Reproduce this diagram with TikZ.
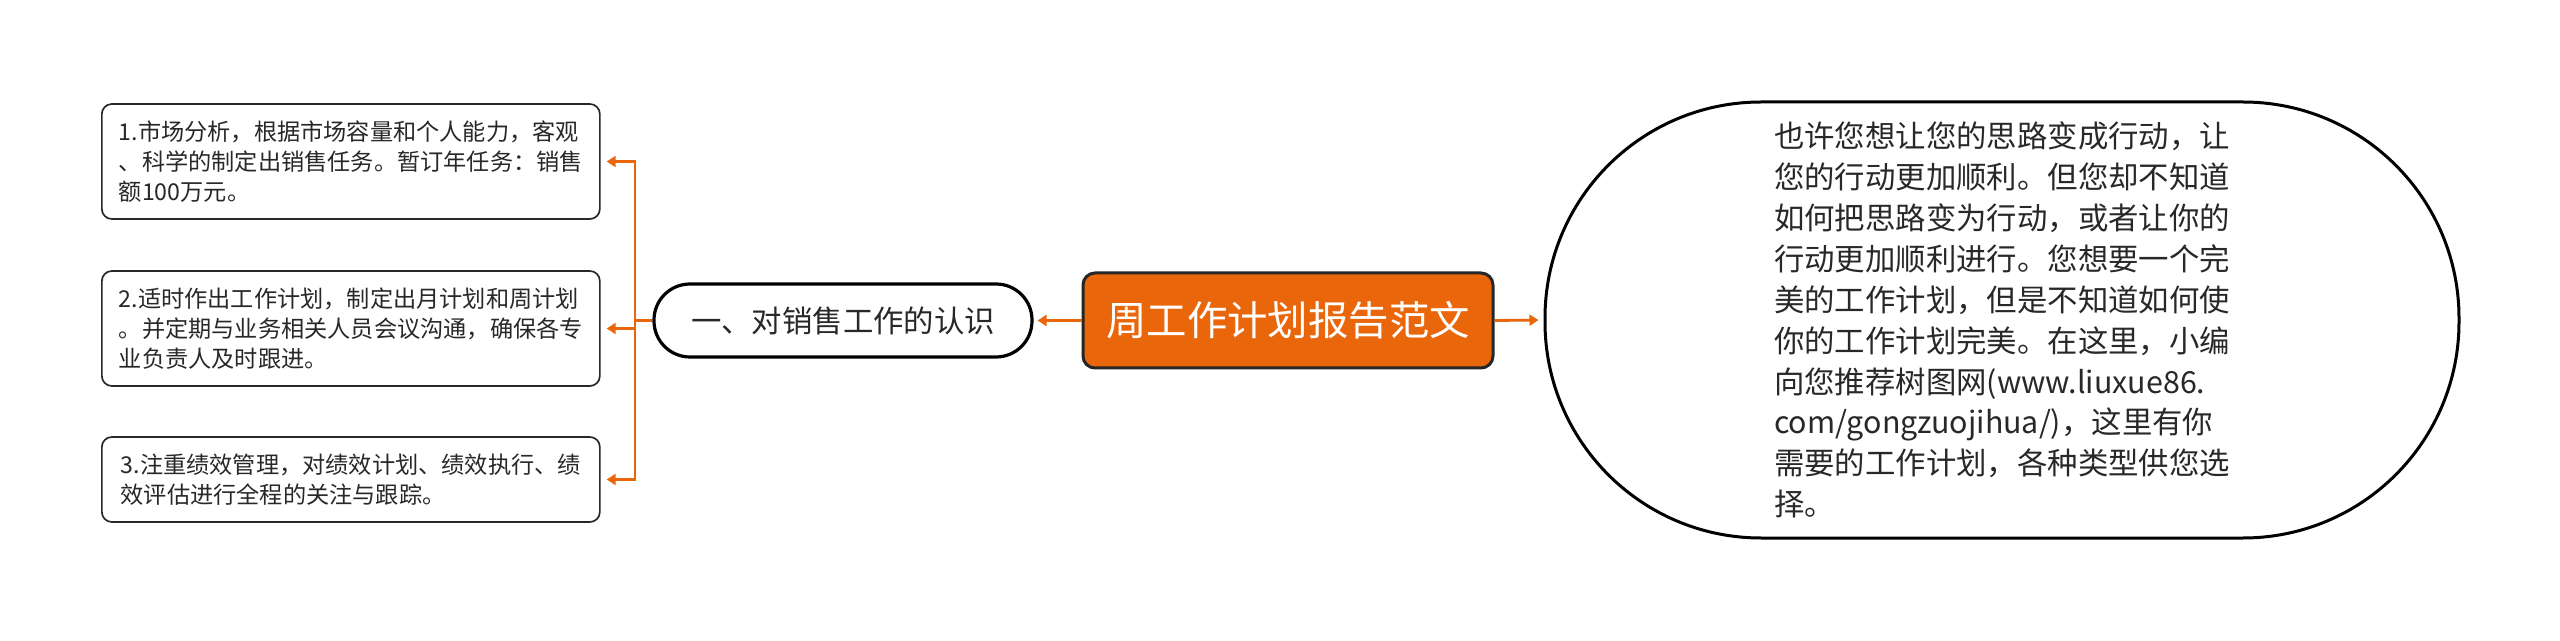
\documentclass[tikz,border=0pt]{standalone}
\usepackage{fontspec}
\setmainfont{Noto Sans CJK SC}
\usetikzlibrary{arrows.meta}
\definecolor{brand}{RGB}{234,102,11}
\definecolor{ink}{RGB}{40,40,40}
\tikzset{
  leaf/.style={draw=ink, line width=0.85pt, rounded corners=5pt, fill=white,
    minimum width=249pt, align=left, text=ink, inner sep=0pt,
    font=\fontsize{11.6pt}{15pt}\selectfont},
  sub/.style={draw=black, line width=1.6pt, rounded corners=18pt, fill=white,
    minimum width=189pt, minimum height=36.5pt, inner sep=0pt, text=ink,
    font=\fontsize{15.2pt}{18pt}\selectfont},
  rootbox/.style={draw=black!85, line width=1.5pt, rounded corners=6pt, fill=brand,
    minimum width=205pt, minimum height=47.5pt, inner sep=0pt, text=white,
    font=\fontsize{20.2pt}{24pt}\selectfont},
  bigbox/.style={draw=black, line width=1.5pt, rounded corners=108pt, fill=white,
    minimum width=457pt, minimum height=218pt, inner sep=0pt, align=left, text=ink,
    font=\fontsize{15.2pt}{20.45pt}\selectfont},
  conn/.style={draw=brand, line width=1.4pt, -{Triangle[length=4.5pt,width=5.5pt]}},
  plain/.style={draw=brand, line width=1.4pt}
}
\begin{document}
\begin{tikzpicture}[x=0.5pt,y=-0.5pt]
\fill[white] (0,0) rectangle (2560,641);
\useasboundingbox (0,0) rectangle (2560,641);

\node[rootbox] (root) at (1288,320.5) {周工作计划报告范文};
\node[sub] (sub) at (843,320.5) {一、对销售工作的认识};
\node[bigbox] (big) at (2002,320) {也许您想让您的思路变成行动，让\\您的行动更加顺利。但您却不知道\\如何把思路变为行动，或者让你的\\行动更加顺利进行。您想要一个完\\美的工作计划，但是不知道如何使\\你的工作计划完美。在这里，小编\\向您推荐树图网(www.liuxue86.\\com/gongzuojihua/)，这里有你\\需要的工作计划，各种类型供您选\\择。};

\node[leaf, minimum height=57.5pt] (b1) at (350.85,161.5) {1.市场分析，根据市场容量和个人能力，客观\\、科学的制定出销售任务。暂订年任务：销售\\额100万元。};
\node[leaf, minimum height=57.5pt] (b2) at (350.85,328.5) {2.适时作出工作计划，制定出月计划和周计划\\。并定期与业务相关人员会议沟通，确保各专\\业负责人及时跟进。};
\node[leaf, minimum height=42.5pt] (b3) at (350.85,479.5) {3.注重绩效管理，对绩效计划、绩效执行、绩\\效评估进行全程的关注与跟踪。};

\coordinate (trunk) at (635,320.5);
\draw[conn, shorten >=2pt] (root.west) -- (sub.east);
\draw[conn, shorten >=2.5pt] (root.east) -- (big.west);
\draw[plain] (sub.west) -- (trunk);
\draw[conn, shorten >=3pt] (trunk) |- (b1.east);
\draw[conn, shorten >=3pt] (trunk) |- (b2.east);
\draw[conn, shorten >=3pt] (trunk) |- (b3.east);
\end{tikzpicture}
\end{document}
